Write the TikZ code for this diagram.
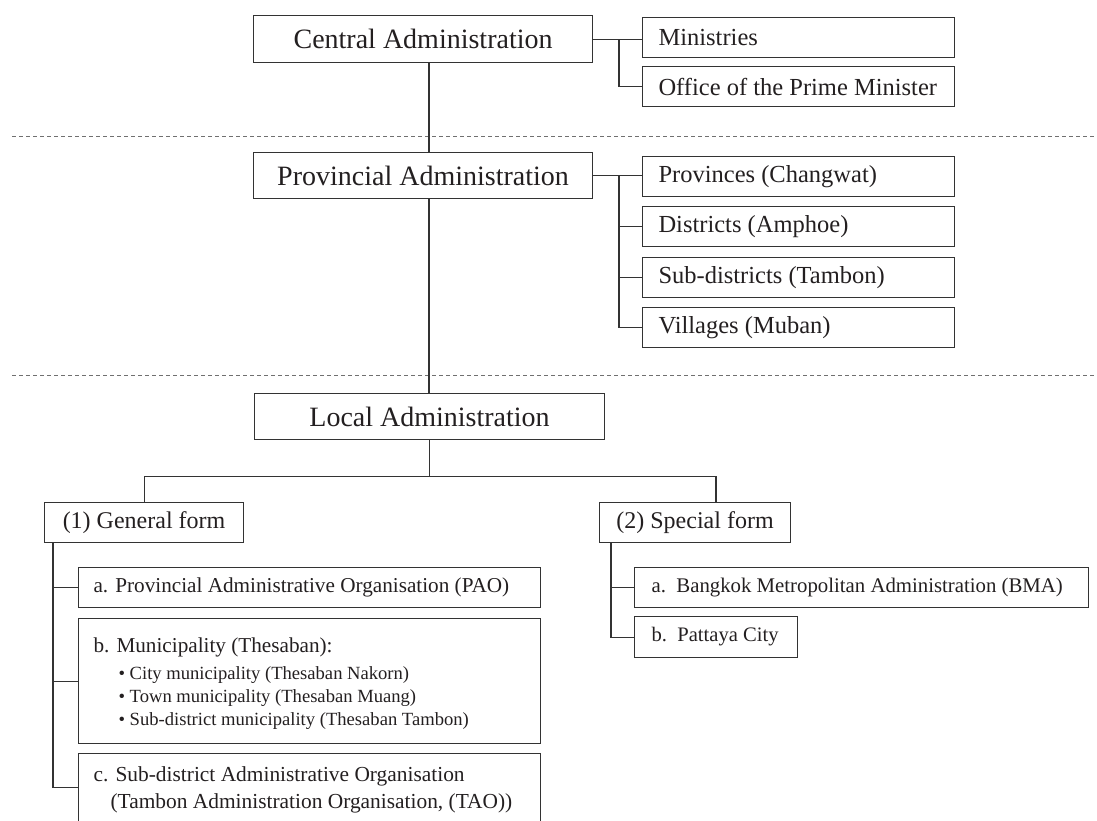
\documentclass[tikz,border=0pt]{standalone}
\usepackage{fontspec}
\setmainfont{Liberation Serif}
\definecolor{ink}{HTML}{231F20}
\definecolor{rule}{HTML}{333333}
\definecolor{sepline}{HTML}{707070}
\begin{document}
\begin{tikzpicture}[x=1pt,y=-1pt,
  every node/.style={text=ink},
  conn/.style={draw=rule, line width=1.1pt},
  levelsep/.style={draw=sepline, line width=0.9pt, dash pattern=on 4pt off 3pt},
  mainbox/.style={draw=rule, line width=1.1pt, anchor=north west, inner sep=0pt,
    minimum height=47pt, font=\fontsize{28}{32}\selectfont},
  subbox/.style={draw=rule, line width=1.1pt, anchor=north west, inner xsep=16pt, inner ysep=0pt,
    text width=280pt, minimum height=40pt, align=flush left, font=\fontsize{24.5}{30}\selectfont},
  formbox/.style={draw=rule, line width=1.1pt, anchor=north west, inner sep=0pt,
    minimum height=40pt, font=\fontsize{24}{28}\selectfont},
  itembox/.style={draw=rule, line width=1.1pt, anchor=north west, inner xsep=15pt, inner ysep=0pt,
    minimum height=40pt, align=flush left, font=\fontsize{21.2}{27}\selectfont},
]
\useasboundingbox (0,0) rectangle (1097,820);

% level separators
\coordinate (sepL1) at (12,136);  \coordinate (sepR1) at (1097,136);
\coordinate (sepL2) at (12,375);  \coordinate (sepR2) at (1097,375);
\draw[levelsep] (sepL1) -- (sepR1);
\draw[levelsep] (sepL2) -- (sepR2);

% central level
\node[mainbox, minimum width=339pt] (central) at (253,15) {Central Administration};
\node[subbox] (min) at (642,17) {\mbox{Ministries}};
\node[subbox] (pm)  at (642,66) {\mbox{Office of the Prime Minister}};

% provincial level
\node[mainbox, minimum width=339pt, minimum height=46pt] (prov) at (253,152) {Provincial Administration};
\node[subbox] (chw) at (642,156) {\mbox{Provinces (Changwat)}};
\node[subbox] (amp) at (642,206) {\mbox{Districts (Amphoe)}};
\node[subbox] (tam) at (642,257) {\mbox{Sub-districts (Tambon)}};
\node[subbox] (mub) at (642,307) {\mbox{Villages (Muban)}};

% local level
\node[mainbox, minimum width=350pt, minimum height=46pt] (local) at (254,393) {Local Administration};
\node[formbox, minimum width=199pt] (gen)  at (44,502)  {(1) General form};
\node[formbox, minimum width=191pt] (spec) at (599,502) {(2) Special form};

\node[itembox, text width=432pt] (pao) at (78,567) {\mbox{a. Provincial Administrative Organisation (PAO)}};
\node[itembox, text width=432pt, minimum height=125pt, font=\fontsize{18.6}{23}\selectfont] (mun) at (78,618)
  {\rule{0pt}{20pt}{\fontsize{21.2}{27}\selectfont b. Municipality (Thesaban):}\\[4pt]
   \hspace*{25pt}• City municipality (Thesaban Nakorn)\\
   \hspace*{25pt}• Town municipality (Thesaban Muang)\\
   \hspace*{25pt}• Sub-district municipality (Thesaban Tambon)};
\node[itembox, text width=432pt, minimum height=68pt, font=\fontsize{21.4}{27}\selectfont] (tao) at (78,753)
  {\rule{0pt}{20pt}c. Sub-district Administrative Organisation\\
   \hspace*{17pt}(Tambon Administration Organisation, (TAO))};

\node[itembox, inner xsep=17pt, text width=420pt, font=\fontsize{20.8}{27}\selectfont] (bma) at (634,567)
  {\mbox{a.\ \ Bangkok Metropolitan Administration (BMA)}};
\node[itembox, inner xsep=17pt, text width=129pt, minimum height=41pt, font=\fontsize{20.6}{27}\selectfont] (pat) at (634,616)
  {\mbox{b.\ \ Pattaya City}};

% trunk positions
\coordinate (tk)  at (429,0);
\coordinate (sx1) at (619,0);
\coordinate (gx)  at (53,0);
\coordinate (sx2) at (611,0);
\coordinate (spx) at (716,0);

% vertical spine
\draw[conn] (central.south -| tk) -- (prov.north -| tk);
\draw[conn] (prov.south -| tk) -- (local.north -| tk);

% central branches
\draw[conn] (central.east) -- (central.east -| min.west);
\draw[conn] (central.east -| sx1) |- (pm.west);

% provincial branches
\draw[conn] (prov.east) -- (prov.east -| chw.west);
\draw[conn] (prov.east -| sx1) |- (amp.west);
\draw[conn] (prov.east -| sx1) |- (tam.west);
\draw[conn] (prov.east -| sx1) |- (mub.west);

% local forms
\draw[conn] (local.south) -- ++(0,36) coordinate (lj);
\draw[conn] (gen.north) |- (lj) -| (spec.north -| spx);

% general form items
\draw[conn] (gen.south -| gx) |- (pao.west);
\draw[conn] (gen.south -| gx) |- (mun.west);
\draw[conn] (gen.south -| gx) |- (tao.west);

% special form items
\draw[conn] (spec.south -| sx2) |- (bma.west);
\draw[conn] (spec.south -| sx2) |- (pat.west);
\end{tikzpicture}
\end{document}
